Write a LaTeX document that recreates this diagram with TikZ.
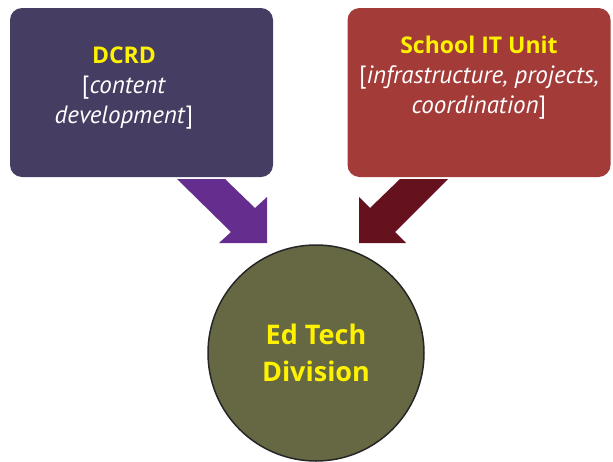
\documentclass[tikz,border=0pt]{standalone}
\usepackage{fontspec}
\setmainfont{PT Sans}
\newfontfamily\headfont{Open Sans}
\definecolor{dcrdfill}{HTML}{463D63}
\definecolor{itfill}{HTML}{A33B38}
\definecolor{dcrdarrow}{HTML}{652D8E}
\definecolor{itarrow}{HTML}{65111E}
\definecolor{edfill}{HTML}{666844}
\definecolor{titleyellow}{HTML}{FFF200}
\newcommand{\unittitle}[1]{\textcolor{titleyellow}{\headfont\bfseries\fontsize{23}{30}\selectfont #1}}
\tikzset{
  unitbox/.style={rounded corners=12pt, minimum width=263pt, minimum height=169pt, inner sep=0pt},
  boxtext/.style={align=center, text=white, font=\fontsize{25}{30}\selectfont}
}
\begin{document}
\begin{tikzpicture}[x=1pt,y=-1pt]
    \useasboundingbox (0,0) rectangle (613,461);
    % the two units
    \node [unitbox, fill=dcrdfill] (dcrd) at (141.5,92.5) {};
    \node [unitbox, fill=itfill] (itunit) at (479,92.5) {};
    \node [boxtext] (dcrdtext) at (124,88) {\unittitle{DCRD}\\{[}\textit{content}\\\textit{development}{]}};
    \node [boxtext] (ittext) at (479,78) {\unittitle{School IT Unit}\\{[}\textit{infrastructure, projects,}\\\textit{coordination}{]}};
    % block arrows
    \fill [dcrdarrow] (177,179) -- (225,179) -- (255,208) -- (267,197) -- (267,243) -- (219,243) -- (231,232) -- cycle;
    \fill [itarrow] (448,179) -- (400,179) -- (370,208) -- (359,197) -- (359,243) -- (406,243) -- (395,232) -- cycle;
    % the division
    \node [circle, fill=edfill, draw=black!85, line width=1.5pt, minimum size=216pt, align=center,
           text=titleyellow, font=\headfont\fontsize{27}{37}\selectfont\bfseries] (edtech) at (316,353) {Ed Tech\\Division};
\end{tikzpicture}
\end{document}
